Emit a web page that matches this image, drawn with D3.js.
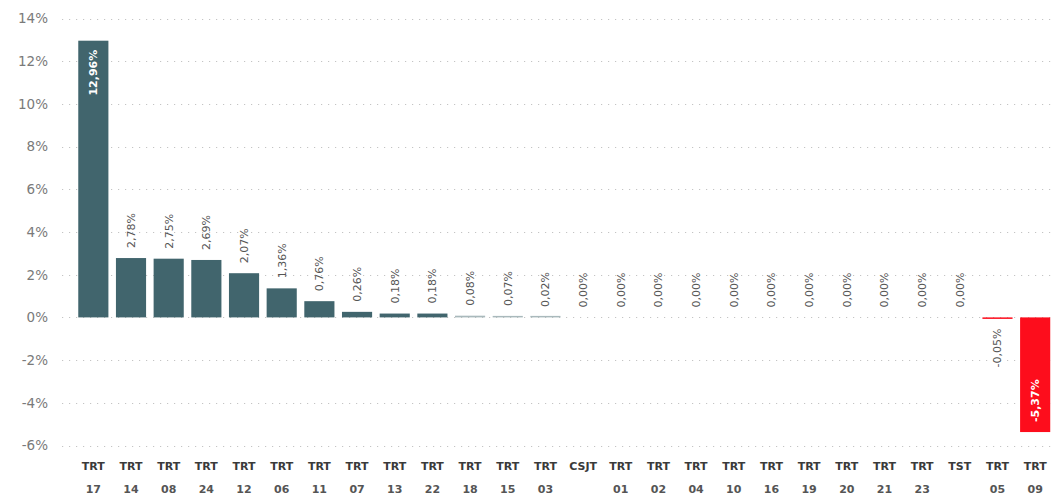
<!DOCTYPE html>
<html>
<head>
<meta charset="utf-8">
<script src="https://cdn.jsdelivr.net/npm/d3@7"></script>
<style>
  body { margin: 0; background: #fff; }
  text { font-family: "DejaVu Sans", sans-serif; }
</style>
</head>
<body>
<div id="chart"></div>
<script>
var svgWidth = 1051;
var svgHeight = 496;

// data
var tribunais = ["TRT 17", "TRT 14", "TRT 08", "TRT 24", "TRT 12", "TRT 06", "TRT 11", "TRT 07",
    "TRT 13", "TRT 22", "TRT 18", "TRT 15", "TRT 03", "CSJT", "TRT 01", "TRT 02", "TRT 04",
    "TRT 10", "TRT 16", "TRT 19", "TRT 20", "TRT 21", "TRT 23", "TST", "TRT 05", "TRT 09"];
var variacao = [12.96, 2.78, 2.75, 2.69, 2.07, 1.36, 0.76, 0.26,
    0.18, 0.18, 0.08, 0.07, 0.02, 0, 0, 0, 0,
    0, 0, 0, 0, 0, 0, 0, -0.05, -5.37];
var yTicks = [-6, -4, -2, 0, 2, 4, 6, 8, 10, 12, 14];

var data = tribunais.map(function (t, i) { return { name: t, value: variacao[i] }; });

var svg = d3.select("#chart")
    .append("svg")
    .attr("width", svgWidth)
    .attr("height", svgHeight);

var x = d3.scaleBand()
    .domain(tribunais)
    .range([74.5, 1054])
    .paddingInner(0.2)
    .paddingOuter(0.1);

var y = d3.scaleLinear()
    .domain([-6, 14])
    .range([445.5, 18.5]);

// gridlines
svg.append("g")
    .selectAll("line")
    .data(yTicks)
    .enter()
    .append("line")
    .attr("x1", 62)
    .attr("x2", svgWidth)
    .attr("y1", d => Math.round(y(d)) + 0.5)
    .attr("y2", d => Math.round(y(d)) + 0.5)
    .attr("stroke", "#c4c4c4")
    .attr("stroke-width", 1)
    .attr("stroke-dasharray", "1.2,5.8");

// y axis labels
var leftAxis = d3.axisLeft(y)
    .tickValues(yTicks)
    .tickSize(0)
    .tickPadding(0)
    .tickFormat(d => d + "%");

svg.append("g")
    .attr("transform", "translate(48,0)")
    .call(leftAxis)
    .call(g => g.select(".domain").remove())
    .selectAll("text")
    .attr("fill", "#7a7a7a")
    .attr("font-size", "13.5px")
    .attr("font-family", "DejaVu Sans, sans-serif");

// bars (tiny non-zero bars kept at least ~1.5px so they still show)
svg.append("g")
    .selectAll("rect")
    .data(data)
    .enter()
    .append("rect")
    .attr("x", d => x(d.name))
    .attr("width", x.bandwidth())
    .attr("y", function (d) {
        var h = Math.abs(y(d.value) - y(0));
        if (d.value > 0 && h < 1.5) return y(0) - 1.5;
        return y(Math.max(0, d.value));
    })
    .attr("height", function (d) {
        var h = Math.abs(y(d.value) - y(0));
        return d.value !== 0 ? Math.max(h, 1.5) : 0;
    })
    .attr("fill", d => d.value < 0 ? "#fd0d1c" : (d.value < 0.1 ? "#a9b9bc" : "#41656d"));

// value labels, rotated
function fmt(v) {
    return v.toFixed(2).replace(".", ",") + "%";
}

svg.append("g")
    .selectAll("text")
    .data(data)
    .enter()
    .append("text")
    .attr("transform", function (d) {
        var cx = x(d.name) + x.bandwidth() / 2 + 4;
        var inside = Math.abs(d.value) > 4;
        var py;
        if (d.value >= 0) {
            py = inside ? y(d.value) + 9 : y(d.value) - 10;
        } else {
            py = inside ? y(d.value) - 10 : y(d.value) + 10;
        }
        return "translate(" + cx + "," + py + ") rotate(-90)";
    })
    .attr("text-anchor", function (d) {
        var inside = Math.abs(d.value) > 4;
        if (d.value >= 0) return inside ? "end" : "start";
        return inside ? "start" : "end";
    })
    .attr("font-size", "11px")
    .attr("font-weight", d => Math.abs(d.value) > 4 ? "bold" : "normal")
    .attr("fill", d => Math.abs(d.value) > 4 ? "#ffffff" : "#555555")
    .text(d => fmt(d.value));

// x axis labels, two lines
var xLabels = svg.append("g")
    .selectAll("text")
    .data(tribunais)
    .enter()
    .append("text")
    .attr("x", d => x(d) + x.bandwidth() / 2)
    .attr("y", 470)
    .attr("text-anchor", "middle")
    .attr("font-size", "11px")
    .attr("font-weight", "bold")
    .attr("fill", "#3a3a3a");

xLabels.each(function (d) {
    var parts = d.split(" ");
    var t = d3.select(this);
    t.append("tspan")
        .attr("x", x(d) + x.bandwidth() / 2)
        .text(parts[0]);
    if (parts[1]) {
        t.append("tspan")
            .attr("x", x(d) + x.bandwidth() / 2)
            .attr("dy", 23)
            .attr("fill", "#555")
            .text(parts[1]);
    }
});
</script>
</body>
</html>
